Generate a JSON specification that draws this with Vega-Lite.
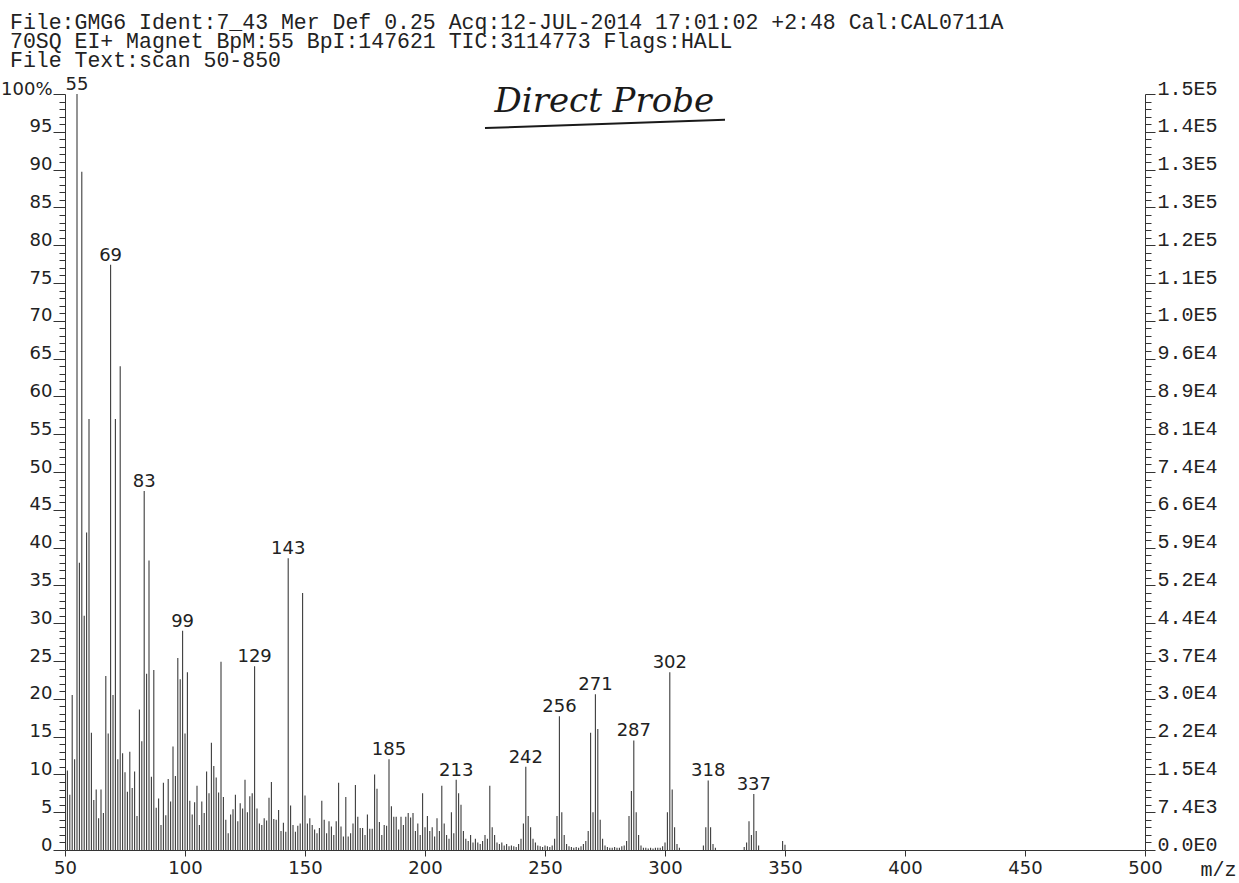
{
  "$schema": "https://vega.github.io/schema/vega-lite/v6.json",
  "width": 1080,
  "height": 756,
  "autosize": {"type": "none"},
  "padding": {"left": 65, "top": 94, "right": 94, "bottom": 33},
  "background": "white",
  "config": {
    "view": {"stroke": null},
    "axis": {"grid": false, "domainColor": "#333", "tickColor": "#333", "labelColor": "#222", "titleColor": "#222"}
  },
  "title": {
    "text": [
      "File:GMG6 Ident:7_43 Mer Def 0.25 Acq:12-JUL-2014 17:01:02 +2:48 Cal:CAL0711A",
      "70SQ EI+ Magnet BpM:55 BpI:147621 TIC:3114773 Flags:HALL",
      "File Text:scan 50-850"
    ],
    "anchor": "start",
    "frame": "group",
    "font": "Liberation Mono",
    "fontSize": 21.5,
    "fontWeight": "normal",
    "color": "#222",
    "lineHeight": 19,
    "dx": -55,
    "dy": -1,
    "offset": 4
  },
  "datasets": {
    "spectrum": [
      {"mz": 51, "pct": 10.5}, {"mz": 52, "pct": 7.3}, {"mz": 53, "pct": 20.5}, {"mz": 54, "pct": 12},
      {"mz": 55, "pct": 100, "label": "55"}, {"mz": 56, "pct": 38}, {"mz": 57, "pct": 89.7}, {"mz": 58, "pct": 31},
      {"mz": 59, "pct": 42}, {"mz": 60, "pct": 57}, {"mz": 61, "pct": 15.5}, {"mz": 62, "pct": 6.6},
      {"mz": 63, "pct": 8}, {"mz": 64, "pct": 4.2}, {"mz": 65, "pct": 8}, {"mz": 66, "pct": 4.9},
      {"mz": 67, "pct": 23}, {"mz": 68, "pct": 15.4}, {"mz": 69, "pct": 77.4, "label": "69"}, {"mz": 70, "pct": 20.5},
      {"mz": 71, "pct": 57}, {"mz": 72, "pct": 12}, {"mz": 73, "pct": 64}, {"mz": 74, "pct": 12.8},
      {"mz": 75, "pct": 10.3}, {"mz": 76, "pct": 7.7}, {"mz": 77, "pct": 13}, {"mz": 78, "pct": 8.2},
      {"mz": 79, "pct": 10.4}, {"mz": 80, "pct": 4.5}, {"mz": 81, "pct": 18.6}, {"mz": 82, "pct": 14.4},
      {"mz": 83, "pct": 47.5, "label": "83"}, {"mz": 84, "pct": 23.3}, {"mz": 85, "pct": 38.3}, {"mz": 86, "pct": 9.7},
      {"mz": 87, "pct": 23.8}, {"mz": 88, "pct": 5.6}, {"mz": 89, "pct": 6.8}, {"mz": 90, "pct": 3.3},
      {"mz": 91, "pct": 8.9}, {"mz": 92, "pct": 4.6}, {"mz": 93, "pct": 9.4}, {"mz": 94, "pct": 6.4},
      {"mz": 95, "pct": 13.7}, {"mz": 96, "pct": 9.8}, {"mz": 97, "pct": 25.4}, {"mz": 98, "pct": 22.6},
      {"mz": 99, "pct": 29, "label": "99"}, {"mz": 100, "pct": 15.4}, {"mz": 101, "pct": 23.5}, {"mz": 102, "pct": 6.5},
      {"mz": 103, "pct": 4.7}, {"mz": 104, "pct": 6.3}, {"mz": 105, "pct": 8.5}, {"mz": 106, "pct": 3.3},
      {"mz": 107, "pct": 6.4}, {"mz": 108, "pct": 4.9}, {"mz": 109, "pct": 10.4}, {"mz": 110, "pct": 7.5},
      {"mz": 111, "pct": 14.2}, {"mz": 112, "pct": 11.1}, {"mz": 113, "pct": 9.6}, {"mz": 114, "pct": 7.6},
      {"mz": 115, "pct": 24.9}, {"mz": 116, "pct": 7}, {"mz": 117, "pct": 4}, {"mz": 118, "pct": 2.2},
      {"mz": 119, "pct": 4.7}, {"mz": 120, "pct": 5.4}, {"mz": 121, "pct": 7.3}, {"mz": 122, "pct": 3.8},
      {"mz": 123, "pct": 6.2}, {"mz": 124, "pct": 5.5}, {"mz": 125, "pct": 9.3}, {"mz": 126, "pct": 5},
      {"mz": 127, "pct": 7.1}, {"mz": 128, "pct": 7.5}, {"mz": 129, "pct": 24.3, "label": "129"}, {"mz": 130, "pct": 5.5},
      {"mz": 131, "pct": 3.5}, {"mz": 132, "pct": 3.3}, {"mz": 133, "pct": 4.2}, {"mz": 134, "pct": 3.9},
      {"mz": 135, "pct": 6.9}, {"mz": 136, "pct": 9}, {"mz": 137, "pct": 4.1}, {"mz": 138, "pct": 4},
      {"mz": 139, "pct": 5.3}, {"mz": 140, "pct": 2.5}, {"mz": 141, "pct": 3.6}, {"mz": 142, "pct": 2.4},
      {"mz": 143, "pct": 38.6, "label": "143"}, {"mz": 144, "pct": 5.9}, {"mz": 145, "pct": 3.3}, {"mz": 146, "pct": 2.4},
      {"mz": 147, "pct": 3.2}, {"mz": 148, "pct": 3.5}, {"mz": 149, "pct": 34}, {"mz": 150, "pct": 7.2},
      {"mz": 151, "pct": 3.5}, {"mz": 152, "pct": 4.2}, {"mz": 153, "pct": 3.3}, {"mz": 154, "pct": 2.7},
      {"mz": 155, "pct": 2.2}, {"mz": 156, "pct": 2.9}, {"mz": 157, "pct": 6.5}, {"mz": 158, "pct": 4},
      {"mz": 159, "pct": 2.2}, {"mz": 160, "pct": 3.8}, {"mz": 161, "pct": 3.1}, {"mz": 162, "pct": 2},
      {"mz": 163, "pct": 3.8}, {"mz": 164, "pct": 8.9}, {"mz": 165, "pct": 3.1}, {"mz": 166, "pct": 1.8},
      {"mz": 167, "pct": 7}, {"mz": 168, "pct": 1.8}, {"mz": 169, "pct": 2.2}, {"mz": 170, "pct": 3.5},
      {"mz": 171, "pct": 8.6}, {"mz": 172, "pct": 4.4}, {"mz": 173, "pct": 2.9}, {"mz": 174, "pct": 2.9},
      {"mz": 175, "pct": 2}, {"mz": 176, "pct": 4.7}, {"mz": 177, "pct": 2.8}, {"mz": 178, "pct": 2.8},
      {"mz": 179, "pct": 10}, {"mz": 180, "pct": 8.1}, {"mz": 181, "pct": 3.7}, {"mz": 182, "pct": 2},
      {"mz": 183, "pct": 3.3}, {"mz": 184, "pct": 3.2}, {"mz": 185, "pct": 12, "label": "185"}, {"mz": 186, "pct": 5.8},
      {"mz": 187, "pct": 4.4}, {"mz": 188, "pct": 4.4}, {"mz": 189, "pct": 2.7}, {"mz": 190, "pct": 4.4},
      {"mz": 191, "pct": 3.3}, {"mz": 192, "pct": 4.4}, {"mz": 193, "pct": 4.9}, {"mz": 194, "pct": 4.3},
      {"mz": 195, "pct": 4.9}, {"mz": 196, "pct": 2.5}, {"mz": 197, "pct": 3.5}, {"mz": 198, "pct": 2},
      {"mz": 199, "pct": 7.5}, {"mz": 200, "pct": 3}, {"mz": 201, "pct": 4.5}, {"mz": 202, "pct": 2.5},
      {"mz": 203, "pct": 3}, {"mz": 204, "pct": 1.8}, {"mz": 205, "pct": 4.2}, {"mz": 206, "pct": 2.5},
      {"mz": 207, "pct": 8.5}, {"mz": 208, "pct": 3.5}, {"mz": 209, "pct": 2}, {"mz": 210, "pct": 1.5},
      {"mz": 211, "pct": 5}, {"mz": 212, "pct": 2.2}, {"mz": 213, "pct": 9.3, "label": "213"}, {"mz": 214, "pct": 7.5},
      {"mz": 215, "pct": 6}, {"mz": 216, "pct": 2.5}, {"mz": 217, "pct": 1.5}, {"mz": 218, "pct": 1.2},
      {"mz": 219, "pct": 2}, {"mz": 220, "pct": 1}, {"mz": 221, "pct": 1.5}, {"mz": 222, "pct": 1},
      {"mz": 223, "pct": 0.8}, {"mz": 224, "pct": 1.2}, {"mz": 225, "pct": 2}, {"mz": 226, "pct": 1.5},
      {"mz": 227, "pct": 8.5}, {"mz": 228, "pct": 3}, {"mz": 229, "pct": 2}, {"mz": 230, "pct": 1},
      {"mz": 231, "pct": 0.8}, {"mz": 232, "pct": 1}, {"mz": 233, "pct": 0.6}, {"mz": 234, "pct": 0.8},
      {"mz": 235, "pct": 0.5}, {"mz": 236, "pct": 0.6}, {"mz": 237, "pct": 0.5}, {"mz": 238, "pct": 0.4},
      {"mz": 239, "pct": 0.8}, {"mz": 240, "pct": 1.5}, {"mz": 241, "pct": 3.5}, {"mz": 242, "pct": 11, "label": "242"},
      {"mz": 243, "pct": 4.5}, {"mz": 244, "pct": 3}, {"mz": 245, "pct": 1.5}, {"mz": 246, "pct": 1},
      {"mz": 247, "pct": 0.6}, {"mz": 248, "pct": 0.5}, {"mz": 249, "pct": 0.4}, {"mz": 250, "pct": 0.6},
      {"mz": 251, "pct": 0.5}, {"mz": 252, "pct": 0.4}, {"mz": 253, "pct": 0.6}, {"mz": 254, "pct": 1.5},
      {"mz": 255, "pct": 4.5}, {"mz": 256, "pct": 17.7, "label": "256"}, {"mz": 257, "pct": 5}, {"mz": 258, "pct": 2},
      {"mz": 259, "pct": 0.8}, {"mz": 260, "pct": 0.5}, {"mz": 261, "pct": 0.4}, {"mz": 262, "pct": 0.3},
      {"mz": 263, "pct": 0.4}, {"mz": 264, "pct": 0.3}, {"mz": 265, "pct": 0.5}, {"mz": 266, "pct": 0.8},
      {"mz": 267, "pct": 1.2}, {"mz": 268, "pct": 2.5}, {"mz": 269, "pct": 15.5}, {"mz": 270, "pct": 5},
      {"mz": 271, "pct": 20.6, "label": "271"}, {"mz": 272, "pct": 16}, {"mz": 273, "pct": 4}, {"mz": 274, "pct": 1.5},
      {"mz": 275, "pct": 0.6}, {"mz": 276, "pct": 0.4}, {"mz": 277, "pct": 0.3}, {"mz": 278, "pct": 0.3},
      {"mz": 279, "pct": 0.4}, {"mz": 280, "pct": 0.3}, {"mz": 281, "pct": 0.3}, {"mz": 282, "pct": 0.5},
      {"mz": 283, "pct": 0.6}, {"mz": 284, "pct": 1.2}, {"mz": 285, "pct": 4.5}, {"mz": 286, "pct": 7.8},
      {"mz": 287, "pct": 14.5, "label": "287"}, {"mz": 288, "pct": 5}, {"mz": 289, "pct": 2}, {"mz": 290, "pct": 0.6},
      {"mz": 291, "pct": 0.3}, {"mz": 292, "pct": 0.3}, {"mz": 293, "pct": 0.2}, {"mz": 294, "pct": 0.3},
      {"mz": 295, "pct": 0.2}, {"mz": 296, "pct": 0.3}, {"mz": 297, "pct": 0.3}, {"mz": 298, "pct": 0.3},
      {"mz": 299, "pct": 0.5}, {"mz": 300, "pct": 1}, {"mz": 301, "pct": 5}, {"mz": 302, "pct": 23.5, "label": "302"},
      {"mz": 303, "pct": 8}, {"mz": 304, "pct": 3}, {"mz": 305, "pct": 0.8}, {"mz": 306, "pct": 0.3},
      {"mz": 316, "pct": 0.6}, {"mz": 317, "pct": 3}, {"mz": 318, "pct": 9.2, "label": "318"}, {"mz": 319, "pct": 3},
      {"mz": 320, "pct": 0.8}, {"mz": 321, "pct": 0.3}, {"mz": 333, "pct": 0.4}, {"mz": 334, "pct": 1},
      {"mz": 335, "pct": 3.8}, {"mz": 336, "pct": 2}, {"mz": 337, "pct": 7.4, "label": "337"}, {"mz": 338, "pct": 2.5},
      {"mz": 339, "pct": 0.6}, {"mz": 349, "pct": 1.2}, {"mz": 350, "pct": 0.7}
    ]
  },
  "layer": [
    {
      "data": {"name": "spectrum"},
      "mark": {"type": "rule", "color": "#3c3c3c", "strokeWidth": 1.1},
      "encoding": {
        "x": {
          "field": "mz", "type": "quantitative",
          "scale": {"domain": [50, 500], "nice": false, "zero": false},
          "axis": {
            "values": [50, 100, 150, 200, 250, 300, 350, 400, 450, 500],
            "labelFont": "DejaVu Sans", "labelFontSize": 18, "labelPadding": 3,
            "labelOverlap": false, "labelFlush": false, "labelBound": false,
            "tickSize": 6,
            "title": "m/z", "titleFont": "Liberation Mono", "titleFontSize": 20, "titleFontWeight": "normal",
            "titleAlign": "left", "titleBaseline": "alphabetic", "titleX": 1135, "titleY": 25
          }
        },
        "y": {
          "field": "pct", "type": "quantitative",
          "scale": {"domain": [0, 100], "nice": false},
          "axis": {
            "orient": "left",
            "values": [0,1,2,3,4,5,6,7,8,9,10,11,12,13,14,15,16,17,18,19,20,21,22,23,24,25,26,27,28,29,30,31,32,33,34,35,36,37,38,39,40,41,42,43,44,45,46,47,48,49,50,51,52,53,54,55,56,57,58,59,60,61,62,63,64,65,66,67,68,69,70,71,72,73,74,75,76,77,78,79,80,81,82,83,84,85,86,87,88,89,90,91,92,93,94,95,96,97,98,99,100],
            "labelExpr": "datum.value % 5 === 0 ? (datum.value === 100 ? '100%' : datum.label) : ''",
            "labelFont": "DejaVu Sans", "labelFontSize": 18, "labelPadding": 1,
            "labelBaseline": "alphabetic", "labelOverlap": false, "labelFlush": false, "labelBound": false,
            "tickSize": {"condition": {"test": "datum.value % 5 === 0", "value": 12}, "value": 6},
            "title": null
          }
        },
        "y2": {"datum": 0}
      }
    },
    {
      "data": {"name": "spectrum"},
      "transform": [{"filter": "isValid(datum.label)"}],
      "mark": {"type": "text", "font": "DejaVu Sans", "fontSize": 18, "color": "#222", "baseline": "alphabetic", "align": "center", "dy": -4},
      "encoding": {
        "x": {"field": "mz", "type": "quantitative"},
        "y": {
          "field": "pct", "type": "quantitative",
          "axis": {
            "orient": "right",
            "values": [0,1,2,3,4,5,6,7,8,9,10,11,12,13,14,15,16,17,18,19,20,21,22,23,24,25,26,27,28,29,30,31,32,33,34,35,36,37,38,39,40,41,42,43,44,45,46,47,48,49,50,51,52,53,54,55,56,57,58,59,60,61,62,63,64,65,66,67,68,69,70,71,72,73,74,75,76,77,78,79,80,81,82,83,84,85,86,87,88,89,90,91,92,93,94,95,96,97,98,99,100],
            "labelExpr": "datum.value % 5 === 0 ? replace(format(datum.value * 1476.21, '.1e'), 'e+', 'E') : ''",
            "labelFont": "Liberation Mono", "labelFontSize": 20, "labelPadding": 2,
            "labelBaseline": "alphabetic", "labelOverlap": false, "labelFlush": false, "labelBound": false,
            "tickSize": {"condition": {"test": "datum.value % 5 === 0", "value": 10}, "value": 6},
            "title": null
          }
        },
        "text": {"field": "label"}
      }
    },
    {
      "data": {"values": [{"note": "Direct Probe"}]},
      "mark": {"type": "text", "font": "DejaVu Serif", "fontStyle": "italic", "fontSize": 34, "color": "#1a1a1a", "align": "left", "baseline": "alphabetic"},
      "encoding": {
        "x": {"datum": 229},
        "y": {"datum": 97.6, "axis": null},
        "text": {"field": "note"}
      }
    },
    {
      "data": {"values": [{"note": "underline"}]},
      "mark": {"type": "rule", "color": "#1a1a1a", "strokeWidth": 2},
      "encoding": {
        "x": {"datum": 225},
        "x2": {"datum": 325},
        "y": {"datum": 95.5, "axis": null},
        "y2": {"datum": 96.6}
      }
    }
  ],
  "resolve": {"axis": {"y": "independent"}}
}
